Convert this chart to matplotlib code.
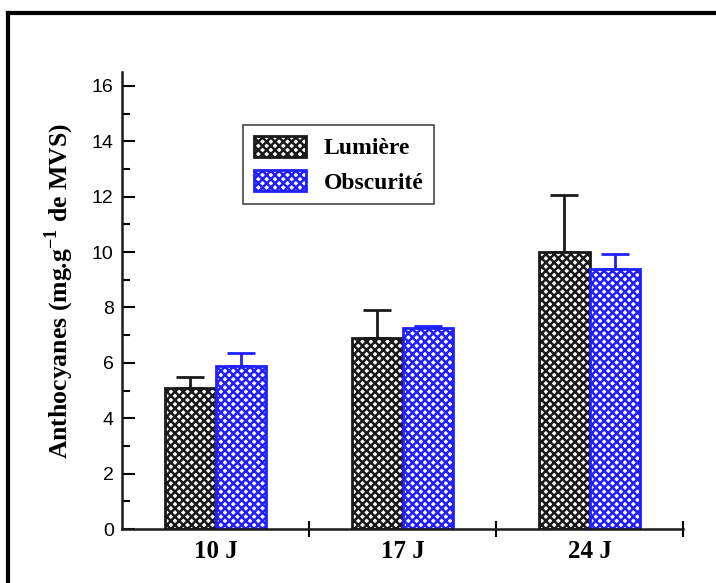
import numpy as np
import matplotlib.pyplot as plt
from matplotlib.lines import Line2D
from matplotlib.patches import Patch
from matplotlib.ticker import MultipleLocator

days = ["10 J", "17 J", "24 J"]
lumiere = [5.1, 6.9, 10.0]
lumiere_err = [0.4, 1.0, 2.05]
obscurite = [5.9, 7.25, 9.4]
obscurite_err = [0.45, 0.07, 0.52]

black = "#1a1a1a"
blue = "#2020ff"

plt.rcParams["hatch.linewidth"] = 1.8
plt.rcParams["mathtext.fontset"] = "custom"
plt.rcParams["mathtext.rm"] = "Liberation Serif"
plt.rcParams["mathtext.bf"] = "Liberation Serif:bold"
serif = ["Liberation Serif", "DejaVu Serif"]
sans = ["Liberation Sans", "DejaVu Sans"]

fig = plt.figure(figsize=(7.16, 5.83), dpi=100)
ax = fig.add_axes([122 / 716, 1 - 529 / 583, (683 - 122) / 716, (529 - 72) / 583])

x = np.arange(len(days)) + 0.5
w = 0.27

ax.bar(x - w / 2, lumiere, w, facecolor="white", edgecolor=black,
       hatch="xxxx", linewidth=2, zorder=2)
ax.bar(x + w / 2, obscurite, w, facecolor="white", edgecolor=blue,
       hatch="xxxx", linewidth=2, zorder=2)
ax.errorbar(x - w / 2, lumiere, yerr=[np.zeros(3), lumiere_err], fmt="none",
            ecolor=black, elinewidth=2, capsize=10, capthick=2, zorder=1)
ax.errorbar(x + w / 2, obscurite, yerr=[np.zeros(3), obscurite_err], fmt="none",
            ecolor=blue, elinewidth=2, capsize=10, capthick=2, zorder=1)

ax.set_xlim(0, 3)
ax.set_ylim(0, 16.5)
ax.spines["top"].set_visible(False)
ax.spines["right"].set_visible(False)
for s in ("left", "bottom"):
    ax.spines[s].set_linewidth(1.8)
    ax.spines[s].set_color(black)

ax.yaxis.set_major_locator(MultipleLocator(2))
ax.yaxis.set_minor_locator(MultipleLocator(1))
ax.tick_params(axis="y", which="major", direction="in", length=9, width=1.5,
               labelsize=14, pad=6)
ax.tick_params(axis="y", which="minor", direction="in", length=6, width=1.5)
for lab in ax.get_yticklabels():
    lab.set_family(sans)

# group boundaries on the x axis
ax.set_xticks([1, 2, 3])
ax.set_xticklabels([])
ax.tick_params(axis="x", which="major", direction="inout", length=12, width=1.5)
ax.set_xticks(x, minor=True)
ax.set_xticklabels(days, minor=True, family=serif, fontweight="bold", fontsize=18)
ax.tick_params(axis="x", which="minor", length=0, pad=8)

ax.set_ylabel(r"Anthocyanes (mg.g$^{\mathbf{-1}}$ de MVS)", family=serif,
              fontweight="bold", fontsize=18.5)
ax.yaxis.set_label_coords(-0.082, 0.52)

handles = [Patch(facecolor="white", edgecolor=black, hatch="xxxx", linewidth=2),
           Patch(facecolor="white", edgecolor=blue, hatch="xxxx", linewidth=2)]
leg = ax.legend(handles, ["Lumière", "Obscurité"], loc="upper left",
                bbox_to_anchor=(0.216, 0.884), borderaxespad=0,
                prop={"family": serif, "weight": "bold", "size": 17},
                frameon=True, fancybox=False, edgecolor=black, handlelength=2.2,
                handleheight=1.0, borderpad=0.45, labelspacing=0.45, handletextpad=0.75)
leg.get_frame().set_linewidth(1.2)

# outer frame
fig.add_artist(Line2D([8 / 716, 8 / 716], [0, 1 - 13 / 583], color="black", lw=3,
                      transform=fig.transFigure))
fig.add_artist(Line2D([8 / 716, 1], [1 - 13 / 583, 1 - 13 / 583], color="black", lw=3,
                      transform=fig.transFigure))

fig.savefig("out.png", dpi=100)
